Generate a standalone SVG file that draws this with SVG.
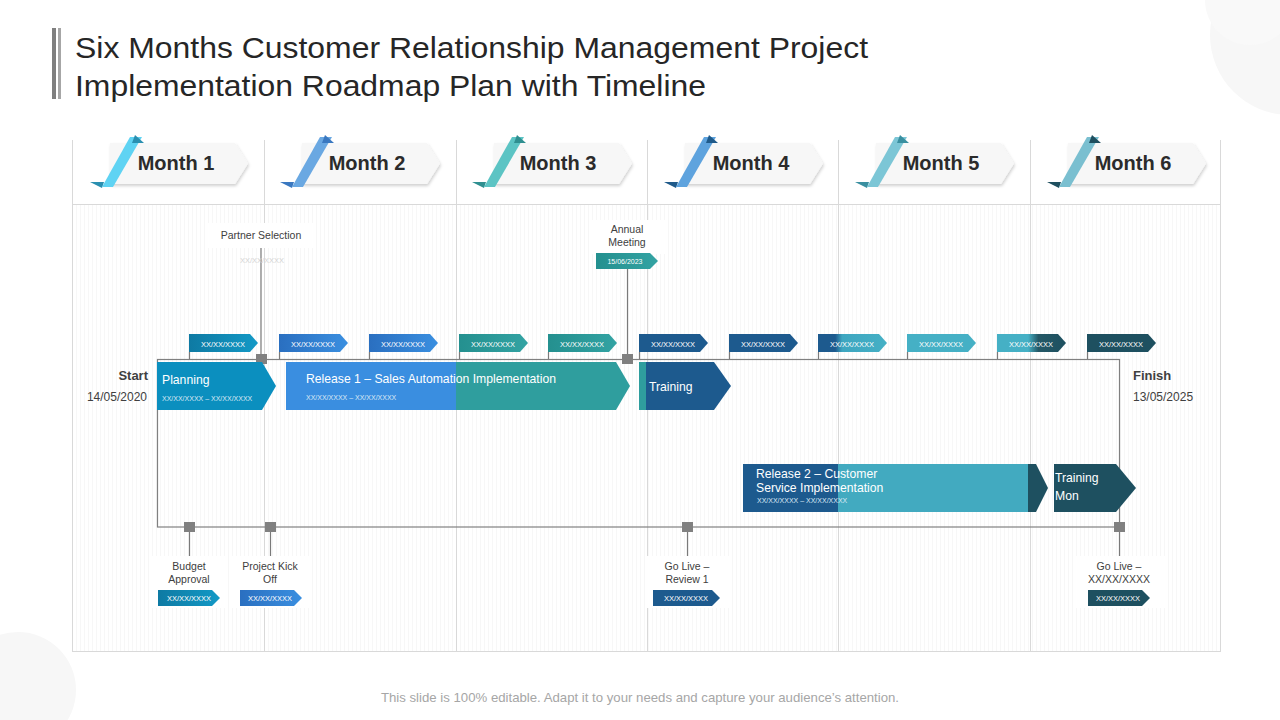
<svg xmlns="http://www.w3.org/2000/svg" width="1280" height="720" viewBox="0 0 1280 720">
<style>
.title{font-family:"Liberation Sans",Arial,sans-serif;font-size:30px;fill:#262626}
.month{font-family:"Liberation Sans",Arial,sans-serif;font-size:20px;font-weight:bold;fill:#2b2b2b}
.lbl{font-family:"Liberation Sans",Arial,sans-serif;font-size:10.5px;fill:#404040}
.tagt{font-family:"Liberation Sans",Arial,sans-serif;font-size:7.5px;fill:#ffffff}
.bar{font-family:"Liberation Sans",Arial,sans-serif;font-size:12.2px;fill:#ffffff}
.sub{font-family:"Liberation Sans",Arial,sans-serif;font-size:7px;fill:#dbe9f5}
.se{font-family:"Liberation Sans",Arial,sans-serif;font-size:13px;font-weight:bold;fill:#404040}
.sed{font-family:"Liberation Sans",Arial,sans-serif;font-size:12px;fill:#404040}
.grid{stroke:#d9d9d9;stroke-width:1;fill:none}
.frame{stroke:#808080;stroke-width:1.2;fill:none}
.stem{stroke:#7a7a7a;stroke-width:1.2}
.sq{fill:#808080}
.foot{font-family:"Liberation Sans",Arial,sans-serif;font-size:13.2px;fill:#a6a6a6}
</style>
<defs>
<pattern id="stripes" width="4" height="4" patternUnits="userSpaceOnUse">
<rect width="4" height="4" fill="#ffffff"/>
<line x1="0.5" y1="0" x2="0.5" y2="4" stroke="#f7f7f7" stroke-width="1"/>
</pattern>
<path id="tag" d="M0 0H61L69 9L61 18H0Z"/>
<path id="btag" d="M0 0H54L62 8L54 16H0Z"/>
<path id="badge" d="M38 143H163L176 163.5L163 184H38Z"/>
<linearGradient id="g1" x1="0" x2="1"><stop offset="0" stop-color="#0e7aa3"/><stop offset="1" stop-color="#1399c6"/></linearGradient>
<linearGradient id="g2" x1="0" x2="1"><stop offset="0" stop-color="#2a6fc0"/><stop offset="1" stop-color="#3a8fe0"/></linearGradient>
<linearGradient id="g3" x1="0" x2="1"><stop offset="0" stop-color="#24908f"/><stop offset="1" stop-color="#33a3a3"/></linearGradient>
<linearGradient id="g8" x1="0" x2="1"><stop offset="0" stop-color="#1d5a8e"/><stop offset="0.25" stop-color="#1d5a8e"/><stop offset="0.35" stop-color="#3ea6c0"/><stop offset="1" stop-color="#45b0c5"/></linearGradient>
<linearGradient id="g10" x1="0" x2="1"><stop offset="0" stop-color="#45b0c5"/><stop offset="0.45" stop-color="#45b0c5"/><stop offset="0.6" stop-color="#245866"/><stop offset="1" stop-color="#1e5060"/></linearGradient>
<filter id="sh" x="-10%" y="-10%" width="130%" height="140%"><feDropShadow dx="1" dy="2" stdDeviation="1.5" flood-color="#000" flood-opacity="0.18"/></filter>
</defs>

<rect width="1280" height="720" fill="#ffffff"/>
<circle cx="1290" cy="35" r="80" fill="#f7f7f7"/>
<circle cx="1250" cy="0" r="45" fill="#f9f9f9"/>
<circle cx="18" cy="690" r="58" fill="#f7f7f7"/>

<g id="title">
<rect x="52" y="28" width="4" height="71" fill="#7f7f7f"/>
<rect x="58" y="28" width="3" height="71" fill="#a6a6a6"/>
<text class="title" x="75" y="58" textLength="793" lengthAdjust="spacingAndGlyphs">Six Months Customer Relationship Management Project</text>
<text class="title" x="75" y="96" textLength="631" lengthAdjust="spacingAndGlyphs">Implementation Roadmap Plan with Timeline</text>
</g>

<g id="table">
<rect x="73" y="205" width="1147" height="446" fill="url(#stripes)"/>
<line class="grid" x1="72.5" y1="140" x2="72.5" y2="651"/>
<line class="grid" x1="1220.5" y1="140" x2="1220.5" y2="651"/>
<line class="grid" x1="264.5" y1="140" x2="264.5" y2="651"/>
<line class="grid" x1="456.5" y1="140" x2="456.5" y2="651"/>
<line class="grid" x1="647.5" y1="140" x2="647.5" y2="651"/>
<line class="grid" x1="838.5" y1="140" x2="838.5" y2="651"/>
<line class="grid" x1="1030.5" y1="140" x2="1030.5" y2="651"/>
<line class="grid" x1="72" y1="204.5" x2="1221" y2="204.5"/>
<line class="grid" x1="72" y1="651.5" x2="1221" y2="651.5"/>
</g>

<g id="month1" transform="translate(72,0)">
<use href="#badge" fill="#f7f7f7" filter="url(#sh)"/>
<polygon points="18,182 32,182 30,188" fill="#2a8fb0"/>
<polygon points="30,187 41,187 70,137 58,137" fill="#5fd3f3"/>
<polygon points="63,135 72,143 60,143" fill="#2a8fb0"/>
<text class="month" x="104" y="170" text-anchor="middle">Month 1</text>
</g>
<g id="month2" transform="translate(264,0)">
<use href="#badge" fill="#f7f7f7" filter="url(#sh)"/>
<polygon points="16,182 30,182 28,188" fill="#3a78c0"/>
<polygon points="28,187 39,187 68,137 56,137" fill="#6aa8e2"/>
<polygon points="61,135 70,143 58,143" fill="#3a78c0"/>
<text class="month" x="103" y="170" text-anchor="middle">Month 2</text>
</g>
<g id="month3" transform="translate(456,0)">
<use href="#badge" fill="#f7f7f7" filter="url(#sh)"/>
<polygon points="16,182 30,182 28,188" fill="#2f8f90"/>
<polygon points="28,187 39,187 68,137 56,137" fill="#5cc4c4"/>
<polygon points="61,135 70,143 58,143" fill="#2f8f90"/>
<text class="month" x="102" y="170" text-anchor="middle">Month 3</text>
</g>
<g id="month4" transform="translate(647,0)">
<use href="#badge" fill="#f7f7f7" filter="url(#sh)"/>
<polygon points="17,182 31,182 29,188" fill="#1f5a8a"/>
<polygon points="29,187 40,187 69,137 57,137" fill="#5ea3de"/>
<polygon points="62,135 71,143 59,143" fill="#1f5a8a"/>
<text class="month" x="104" y="170" text-anchor="middle">Month 4</text>
</g>
<g id="month5" transform="translate(838,0)">
<use href="#badge" fill="#f7f7f7" filter="url(#sh)"/>
<polygon points="17,182 31,182 29,188" fill="#3a8fa0"/>
<polygon points="29,187 40,187 69,137 57,137" fill="#7cc6d6"/>
<polygon points="62,135 71,143 59,143" fill="#3a8fa0"/>
<text class="month" x="103" y="170" text-anchor="middle">Month 5</text>
</g>
<g id="month6" transform="translate(1030,0)">
<use href="#badge" fill="#f7f7f7" filter="url(#sh)"/>
<polygon points="17,182 31,182 29,188" fill="#1f4f5f"/>
<polygon points="29,187 40,187 69,137 57,137" fill="#7abfd0"/>
<polygon points="62,135 71,143 59,143" fill="#1f4f5f"/>
<text class="month" x="103" y="170" text-anchor="middle">Month 6</text>
</g>

<g id="connectors">
<rect class="frame" x="157.5" y="359.5" width="962" height="167.5"/>
<line class="stem" x1="261" y1="248" x2="261" y2="359"/>
<line class="stem" x1="627.5" y1="269" x2="627.5" y2="359"/>
<line class="stem" x1="189.5" y1="352" x2="189.5" y2="359"/>
<line class="stem" x1="279.5" y1="352" x2="279.5" y2="359"/>
<line class="stem" x1="369.5" y1="352" x2="369.5" y2="359"/>
<line class="stem" x1="459.5" y1="352" x2="459.5" y2="359"/>
<line class="stem" x1="548.5" y1="352" x2="548.5" y2="359"/>
<line class="stem" x1="639.5" y1="352" x2="639.5" y2="359"/>
<line class="stem" x1="729.5" y1="352" x2="729.5" y2="359"/>
<line class="stem" x1="818.5" y1="352" x2="818.5" y2="359"/>
<line class="stem" x1="907.5" y1="352" x2="907.5" y2="359"/>
<line class="stem" x1="997.5" y1="352" x2="997.5" y2="359"/>
<line class="stem" x1="1087.5" y1="352" x2="1087.5" y2="359"/>
<line class="stem" x1="189.5" y1="527" x2="189.5" y2="556"/>
<line class="stem" x1="270.5" y1="527" x2="270.5" y2="556"/>
<line class="stem" x1="687.5" y1="527" x2="687.5" y2="556"/>
<line class="stem" x1="1119.5" y1="527" x2="1119.5" y2="556"/>
<rect class="sq" x="256" y="354" width="11" height="10"/>
<rect class="sq" x="622" y="354" width="11" height="10"/>
<rect class="sq" x="184" y="522" width="11" height="10"/>
<rect class="sq" x="265" y="522" width="11" height="10"/>
<rect class="sq" x="682" y="522" width="11" height="10"/>
<rect class="sq" x="1114" y="522" width="11" height="10"/>
</g>

<g id="partner-selection">
<rect x="206" y="223" width="110" height="25" fill="#ffffff"/>
<text class="lbl" x="261" y="239" text-anchor="middle">Partner Selection</text>
<text class="tagt" x="262" y="263" text-anchor="middle" style="fill:#d4d4d4">XX/XX/XXXX</text>
</g>
<g id="annual-meeting">
<rect x="590" y="220" width="76" height="34" fill="#ffffff"/>
<text class="lbl" x="627" y="233" text-anchor="middle">Annual</text>
<text class="lbl" x="627" y="246" text-anchor="middle">Meeting</text>
<path d="M596 253H650L658 261L650 269H596Z" fill="url(#g3)"/>
<text class="tagt" x="625" y="263.5" text-anchor="middle" style="font-size:7px">15/06/2023</text>
</g>

<g id="top-tags">
<use href="#tag" x="189" y="334" fill="url(#g1)"/><text class="tagt" x="223" y="346.5" text-anchor="middle">XX/XX/XXXX</text>
<use href="#tag" x="279" y="334" fill="url(#g2)"/><text class="tagt" x="313" y="346.5" text-anchor="middle">XX/XX/XXXX</text>
<use href="#tag" x="369" y="334" fill="url(#g2)"/><text class="tagt" x="403" y="346.5" text-anchor="middle">XX/XX/XXXX</text>
<use href="#tag" x="459" y="334" fill="url(#g3)"/><text class="tagt" x="493" y="346.5" text-anchor="middle">XX/XX/XXXX</text>
<use href="#tag" x="548" y="334" fill="url(#g3)"/><text class="tagt" x="582" y="346.5" text-anchor="middle">XX/XX/XXXX</text>
<use href="#tag" x="639" y="334" fill="#1d5a8e"/><text class="tagt" x="673" y="346.5" text-anchor="middle">XX/XX/XXXX</text>
<use href="#tag" x="729" y="334" fill="#1d5a8e"/><text class="tagt" x="763" y="346.5" text-anchor="middle">XX/XX/XXXX</text>
<use href="#tag" x="818" y="334" fill="url(#g8)"/><text class="tagt" x="852" y="346.5" text-anchor="middle">XX/XX/XXXX</text>
<use href="#tag" x="907" y="334" fill="#45b0c5"/><text class="tagt" x="941" y="346.5" text-anchor="middle">XX/XX/XXXX</text>
<use href="#tag" x="997" y="334" fill="url(#g10)"/><text class="tagt" x="1031" y="346.5" text-anchor="middle">XX/XX/XXXX</text>
<use href="#tag" x="1087" y="334" fill="#1e5060"/><text class="tagt" x="1121" y="346.5" text-anchor="middle">XX/XX/XXXX</text>
</g>

<g id="start">
<text class="se" x="148" y="380" text-anchor="end">Start</text>
<text class="sed" x="147" y="401" text-anchor="end">14/05/2020</text>
</g>
<g id="finish">
<text class="se" x="1133" y="380">Finish</text>
<text class="sed" x="1133" y="401">13/05/2025</text>
</g>

<g id="planning">
<path d="M157 362H262L276 386L262 410H157Z" fill="#0b8fbf"/>
<text class="bar" x="162" y="384">Planning</text>
<text class="sub" x="162" y="401">XX/XX/XXXX – XX/XX/XXXX</text>
</g>
<g id="release1">
<rect x="286" y="362" width="171" height="48" fill="#3a8ee0"/>
<path d="M456 362H616L630 386L616 410H456Z" fill="#2f9e9e"/>
<text class="bar" x="306" y="383">Release 1 – Sales Automation Implementation</text>
<text class="sub" x="306" y="400">XX/XX/XXXX – XX/XX/XXXX</text>
</g>
<g id="training1">
<rect x="639" y="362" width="8" height="48" fill="#2f9e9e"/>
<path d="M646 362H714L731 386L714 410H646Z" fill="#1d5a8e"/>
<text class="bar" x="649" y="391">Training</text>
</g>
<g id="release2">
<rect x="743" y="464" width="96" height="48" fill="#1d5a8e"/>
<rect x="838" y="464" width="191" height="48" fill="#42aac0"/>
<path d="M1028 464H1036L1048 488L1036 512H1028Z" fill="#1e5060"/>
<text class="bar" x="756" y="478">Release 2 – Customer</text>
<text class="bar" x="756" y="492">Service Implementation</text>
<text class="sub" x="757" y="503">XX/XX/XXXX – XX/XX/XXXX</text>
</g>
<g id="training2">
<path d="M1054 464H1116L1136 488L1116 512H1054Z" fill="#1e5060"/>
<text class="bar" x="1055" y="482">Training</text>
<text class="bar" x="1055" y="500">Mon</text>
</g>

<g id="budget-approval">
<rect x="150" y="556" width="78" height="52" fill="#ffffff"/>
<text class="lbl" x="189" y="570" text-anchor="middle">Budget</text>
<text class="lbl" x="189" y="583" text-anchor="middle">Approval</text>
<use href="#btag" x="158" y="590" fill="url(#g1)"/>
<text class="tagt" x="189" y="600.5" text-anchor="middle">XX/XX/XXXX</text>
</g>
<g id="project-kick-off">
<rect x="231" y="556" width="80" height="52" fill="#ffffff"/>
<text class="lbl" x="270" y="570" text-anchor="middle">Project Kick</text>
<text class="lbl" x="270" y="583" text-anchor="middle">Off</text>
<use href="#btag" x="240" y="590" fill="url(#g2)"/>
<text class="tagt" x="270" y="600.5" text-anchor="middle">XX/XX/XXXX</text>
</g>
<g id="go-live-review">
<rect x="645" y="556" width="85" height="52" fill="#ffffff"/>
<text class="lbl" x="687" y="570" text-anchor="middle">Go Live –</text>
<text class="lbl" x="687" y="583" text-anchor="middle">Review 1</text>
<path d="M653 590H712L720 598L712 606H653Z" fill="#1d5a8e"/>
<text class="tagt" x="686" y="600.5" text-anchor="middle">XX/XX/XXXX</text>
</g>
<g id="go-live-final">
<rect x="1075" y="556" width="90" height="52" fill="#ffffff"/>
<text class="lbl" x="1119" y="570" text-anchor="middle">Go Live –</text>
<text class="lbl" x="1119" y="583" text-anchor="middle">XX/XX/XXXX</text>
<path d="M1088 590H1142L1150 598L1142 606H1088Z" fill="#1e5060"/>
<text class="tagt" x="1118" y="600.5" text-anchor="middle">XX/XX/XXXX</text>
</g>

<text class="foot" x="640" y="702" text-anchor="middle">This slide is 100% editable. Adapt it to your needs and capture your audience’s attention.</text>
</svg>
